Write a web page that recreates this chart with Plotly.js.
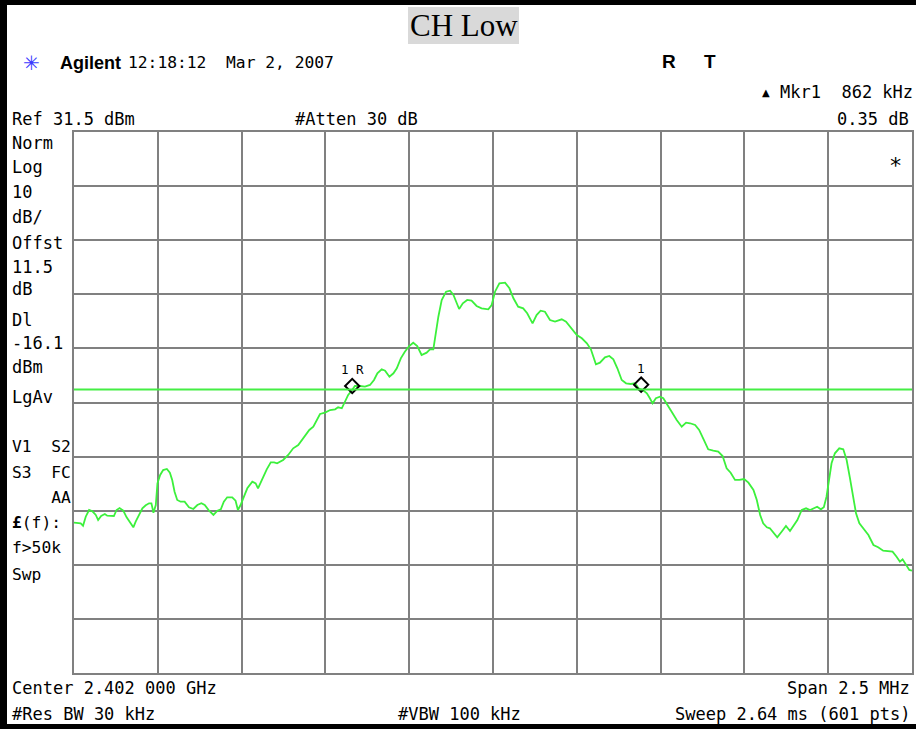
<!DOCTYPE html>
<html><head><meta charset="utf-8">
<script src="https://cdn.plot.ly/plotly-3.0.1.min.js"></script>
<style>html,body{margin:0;padding:0;background:#fff;overflow:hidden;} #chart{width:916px;height:729px;}</style>
</head><body><div id="chart"></div>
<script>
// ---- data ----
const freqMHz = [
2400.750,2400.770,2400.777,2400.785,2400.795,2400.805,2400.815,2400.822,2400.831,2400.842,
2400.849,2400.869,2400.877,2400.886,2400.897,2400.907,2400.919,2400.927,2400.934,2400.944,
2400.954,2400.964,2400.974,2400.981,2400.987,2400.994,2400.999,2401.007,2401.016,2401.027,
2401.036,2401.043,2401.050,2401.058,2401.068,2401.080,2401.093,2401.106,2401.118,2401.130,
2401.140,2401.153,2401.166,2401.178,2401.188,2401.197,2401.207,2401.222,2401.232,2401.239,
2401.247,2401.257,2401.267,2401.282,2401.292,2401.299,2401.312,2401.325,2401.337,2401.347,
2401.356,2401.374,2401.389,2401.404,2401.419,2401.434,2401.452,2401.464,2401.474,2401.484,
2401.499,2401.514,2401.529,2401.538,2401.549,2401.558,2401.568,2401.578,2401.588,2401.603,
2401.618,2401.633,2401.645,2401.655,2401.668,2401.678,2401.691,2401.703,2401.713,2401.725,
2401.737,2401.750,2401.762,2401.774,2401.787,2401.802,2401.812,2401.822,2401.830,2401.837,
2401.847,2401.860,2401.872,2401.882,2401.892,2401.899,2401.910,2401.923,2401.936,2401.951,
2401.966,2401.986,2401.996,2402.006,2402.019,2402.036,2402.049,2402.061,2402.075,2402.090,
2402.102,2402.118,2402.130,2402.142,2402.155,2402.170,2402.185,2402.205,2402.218,2402.235,
2402.250,2402.265,2402.280,2402.292,2402.301,2402.307,2402.319,2402.334,2402.347,2402.359,
2402.371,2402.384,2402.397,2402.411,2402.424,2402.434,2402.447,2402.459,2402.468,2402.476,
2402.486,2402.498,2402.508,2402.518,2402.533,2402.548,2402.563,2402.576,2402.588,2402.603,
2402.615,2402.629,2402.642,2402.657,2402.672,2402.685,2402.697,2402.709,2402.722,2402.735,
2402.749,2402.762,2402.777,2402.787,2402.797,2402.806,2402.817,2402.826,2402.838,2402.848,
2402.861,2402.874,2402.886,2402.898,2402.908,2402.921,2402.934,2402.946,2402.958,2402.967,
2402.978,2402.987,2402.995,2403.003,2403.010,2403.020,2403.033,2403.045,2403.055,2403.065,
2403.075,2403.083,2403.093,2403.105,2403.120,2403.135,2403.149,2403.164,2403.179,2403.192,
2403.204,2403.214,2403.222,2403.232,2403.242,2403.250];
const levelDbm = [
-40.72,-40.83,-41.27,-39.61,-38.37,-38.61,-39.29,-40.22,-39.48,-39.11,
-39.42,-39.48,-38.37,-38.00,-38.50,-39.72,-40.83,-41.57,-40.53,-39.29,
-38.06,-37.50,-37.13,-37.13,-38.87,-37.45,-33.44,-31.90,-30.98,-30.79,
-31.47,-32.82,-34.99,-36.52,-36.84,-36.84,-37.87,-38.18,-37.45,-37.13,
-37.45,-38.50,-39.29,-38.50,-38.24,-36.84,-36.02,-36.02,-36.65,-38.37,
-37.45,-35.91,-34.36,-33.14,-33.44,-34.36,-32.51,-30.85,-29.55,-29.55,
-29.74,-29.13,-28.20,-26.97,-26.36,-25.12,-23.58,-22.97,-21.73,-20.62,
-20.38,-19.89,-19.76,-19.39,-19.57,-18.35,-17.11,-16.32,-15.45,-15.45,
-15.58,-15.26,-14.34,-13.10,-12.36,-12.62,-13.73,-13.10,-12.18,-10.33,
-9.11,-8.06,-7.45,-8.06,-9.72,-9.29,-8.67,-8.67,-5.10,-2.64,
0.45,1.98,2.17,1.37,-0.16,-1.22,-0.16,0.45,0.32,-0.66,
-1.09,-1.27,-0.48,1.98,3.53,3.64,2.61,0.76,-0.79,-1.09,
-2.01,-3.86,-2.33,-1.53,-1.72,-3.25,-3.56,-3.12,-3.56,-4.78,
-6.02,-6.63,-7.56,-8.67,-10.33,-11.44,-11.14,-10.14,-9.90,-10.51,
-12.18,-14.34,-14.95,-15.08,-14.95,-15.87,-16.19,-16.80,-17.72,-18.65,
-17.72,-17.43,-17.72,-18.65,-20.20,-21.73,-22.97,-22.23,-22.34,-22.66,
-23.58,-25.43,-27.15,-27.41,-27.59,-28.39,-30.66,-31.47,-32.82,-32.82,
-32.64,-33.32,-34.67,-36.52,-39.29,-40.83,-41.57,-41.75,-42.68,-43.42,
-42.38,-41.33,-42.25,-41.14,-40.22,-38.37,-38.06,-38.37,-38.06,-37.76,
-38.24,-37.87,-35.91,-32.82,-29.74,-27.89,-26.97,-27.15,-29.13,-32.51,
-35.91,-38.98,-40.83,-41.75,-42.99,-44.84,-45.26,-45.89,-45.95,-46.08,
-47.00,-47.93,-47.48,-48.54,-49.46,-49.59];

const refLevelDbm = 31.5;
const dbPerDiv = 10;
const numDivs = 10;
const centerMHz = 2402.0;
const spanMHz = 2.5;
const displayLineDbm = -16.1;
const markerFreqMHz = [2401.580, 2402.442];
const markerLevelDbm = [-15.45, -15.2];
const markerLabels = ['1 R', '1'];

const leftLabels = ['Norm','Log','10','dB/','Offst','11.5','dB','Dl','-16.1','dBm','LgAv'];
const leftLabels2 = ['V1  S2','S3  FC','    AA','<b>£</b>(f):','f>50k','Swp'];

// ---- layout geometry ----
const W = 916, H = 729, L = 74, R = 4, T = 132, B = 56;
const PW = W - L - R, PH = H - T - B;
const px = (x) => (x - L) / PW;
const py = (y) => (H - B - y) / PH;

const mono = 'DejaVu Sans Mono, Liberation Mono, monospace';
const fs = 17;
const ann = [];
function txt(text, x, y, anchor, opts) {
  opts = opts || {};
  ann.push(Object.assign({
    text: text, xref: 'paper', yref: 'paper', x: px(x), y: py(y),
    xanchor: anchor || 'left', yanchor: 'middle', showarrow: false,
    font: {family: mono, size: fs, color: '#000'}, borderpad: 0
  }, opts));
}

// header
txt('CH Low', 463.5, 26, 'center', {font: {family: 'Liberation Serif, Times New Roman, serif', size: 31, color: '#000'}});
txt('✳', 31, 63, 'center', {font: {family: 'DejaVu Sans', size: 20, color: '#3a3aff'}});
txt('<b>Agilent</b>', 59, 63, 'left', {font: {family: 'Liberation Sans, Arial, sans-serif', size: 18, color: '#000'}});
txt('12:18:12  Mar 2, 2007', 127, 63, 'left', {font: {family: mono, size: 16.3, color: '#000'}});
txt('<b>R</b>', 669, 62, 'center', {font: {family: 'Liberation Sans, Arial, sans-serif', size: 19, color: '#000'}});
txt('<b>T</b>', 710, 62, 'center', {font: {family: 'Liberation Sans, Arial, sans-serif', size: 19, color: '#000'}});
txt('<b>▲</b>', 766, 93, 'center', {font: {family: 'DejaVu Sans', size: 10, color: '#000'}});
txt('Mkr1  862 kHz', 914, 92, 'right');
txt('Ref 31.5 dBm', 11, 119, 'left');
txt('#Atten 30 dB', 294, 119, 'left');
txt('0.35 dB', 910, 119, 'right');
// side panel
const leftY = [143, 167, 192, 217, 243, 267, 289, 320, 343, 367, 397];
leftLabels.forEach((t, i) => txt(t, 11, leftY[i], 'left'));
const left2Y = [446, 472, 497, 522, 547, 574];
leftLabels2.forEach((t, i) => txt(t.replace(/ /g, '&nbsp;'), 11, left2Y[i], 'left', {font: {family: mono, size: 16.3, color: '#000'}}));
// footer
txt('Center 2.402 000 GHz', 11, 688, 'left');
txt('Span 2.5 MHz', 911, 688, 'right');
txt('#Res BW 30 kHz', 11, 714, 'left');
txt('#VBW 100 kHz', 397, 714, 'left');
txt('Sweep 2.64 ms (601 pts)', 911, 714, 'right');
// asterisk inside grid
txt('*', 895, 165, 'center', {font: {family: mono, size: 22, color: '#000'}});
// marker labels
markerFreqMHz.forEach((f, i) => ann.push({
  text: markerLabels[i], x: f, y: markerLevelDbm[i], xref: 'x', yref: 'y',
  xanchor: 'center', yanchor: 'bottom', yshift: 7, showarrow: false,
  font: {family: mono, size: 12.5, color: '#000'}
}));

const shapes = [
  // title box
  {type: 'rect', xref: 'paper', yref: 'paper', x0: px(408), x1: px(519), y0: py(44), y1: py(7),
   fillcolor: '#d9d9d9', line: {width: 0}, layer: 'below'},
  // black frame
  {type: 'rect', xref: 'paper', yref: 'paper', x0: px(0), x1: px(7), y0: py(729), y1: py(0),
   fillcolor: '#000', line: {width: 0}},
  {type: 'rect', xref: 'paper', yref: 'paper', x0: px(0), x1: px(916), y0: py(5), y1: py(0),
   fillcolor: '#000', line: {width: 0}},
  {type: 'rect', xref: 'paper', yref: 'paper', x0: px(0), x1: px(916), y0: py(729), y1: py(724),
   fillcolor: '#000', line: {width: 0}},
  // display line
  {type: 'line', xref: 'paper', yref: 'y', x0: 0, x1: 1, y0: displayLineDbm, y1: displayLineDbm,
   line: {color: '#44ee44', width: 2}, layer: 'above'}
];

const traces = [
  {x: freqMHz, y: levelDbm, type: 'scatter', mode: 'lines',
   line: {color: '#3cf03c', width: 1.8}, hoverinfo: 'skip'},
  {x: markerFreqMHz, y: markerLevelDbm, type: 'scatter', mode: 'markers',
   marker: {symbol: 'diamond-open', size: 11, color: '#000', line: {color: '#000', width: 2}}, hoverinfo: 'skip'}
];

const grid = '#808080';
const layout = {
  width: W, height: H, margin: {l: L, r: R, t: T, b: B, pad: 0},
  paper_bgcolor: '#fff', plot_bgcolor: '#fff', showlegend: false,
  xaxis: {range: [centerMHz - spanMHz / 2, centerMHz + spanMHz / 2], tick0: centerMHz - spanMHz / 2,
          dtick: spanMHz / numDivs, showgrid: true, gridcolor: grid, gridwidth: 2,
          showticklabels: false, ticks: '', zeroline: false, showline: true, mirror: true,
          linecolor: grid, linewidth: 2, fixedrange: true},
  yaxis: {range: [refLevelDbm - dbPerDiv * numDivs, refLevelDbm], tick0: refLevelDbm,
          dtick: dbPerDiv, showgrid: true, gridcolor: grid, gridwidth: 2,
          showticklabels: false, ticks: '', zeroline: false, showline: true, mirror: true,
          linecolor: grid, linewidth: 2, fixedrange: true},
  annotations: ann, shapes: shapes
};
Plotly.newPlot('chart', traces, layout, {displayModeBar: false, staticPlot: true});
</script></body></html>
